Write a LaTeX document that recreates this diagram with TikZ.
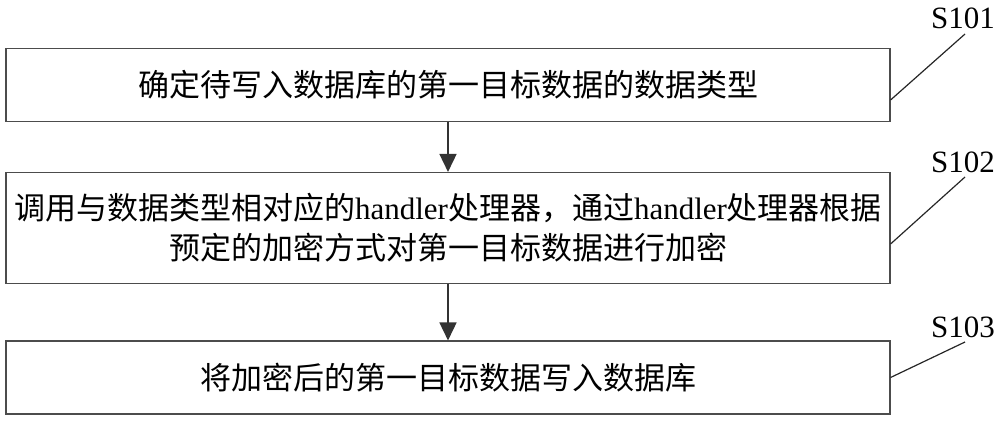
\documentclass[tikz,border=0pt]{standalone}
\usepackage{fontspec}
\setmainfont{Liberation Serif}
\newfontfamily\cjk{Noto Sans CJK SC}
\usetikzlibrary{arrows.meta}
\begin{document}
\begin{tikzpicture}[x=1pt,y=-1pt,
  stepbox/.style={draw=black!70,line width=1.1pt,minimum width=884pt,inner sep=0pt,align=center,font=\fontsize{31}{40}\selectfont},
  lbl/.style={font=\fontsize{31}{34}\selectfont,inner sep=0pt},
  flow/.style={line width=1.6pt,black!80,-{Triangle[length=18pt,width=17pt]}},
  lead/.style={line width=1.2pt,black!85}]
\useasboundingbox (0,0) rectangle (1000,422);
\node[stepbox,minimum height=73pt] (b1) at (448,85) {\cjk 确定待写入数据库的第一目标数据的数据类型};
\node[stepbox,minimum height=111pt] (b2) at (448,228) {{\cjk 调用与数据类型相对应的}handler{\cjk 处理器，通过}handler{\cjk 处理器根据}\\[0pt]{\cjk 预定的加密方式对第一目标数据进行加密}};
\node[stepbox,minimum height=73pt] (b3) at (448,377.5) {\cjk 将加密后的第一目标数据写入数据库};
\node[lbl] (s1) at (963,18) {S101};
\node[lbl] (s2) at (963,162) {S102};
\node[lbl] (s3) at (963,327) {S103};
\coordinate (e1) at (965,34);
\coordinate (e2) at (965,177);
\coordinate (e3) at (965,342);
\draw[flow] (b1.south) -- (b2.north);
\draw[flow] (b2.south) -- (b3.north);
\draw[lead] ([yshift=-15pt]b1.east) -- (e1);
\draw[lead] ([yshift=-16pt]b2.east) -- (e2);
\draw[lead] (b3.east) -- (e3);
\end{tikzpicture}
\end{document}
